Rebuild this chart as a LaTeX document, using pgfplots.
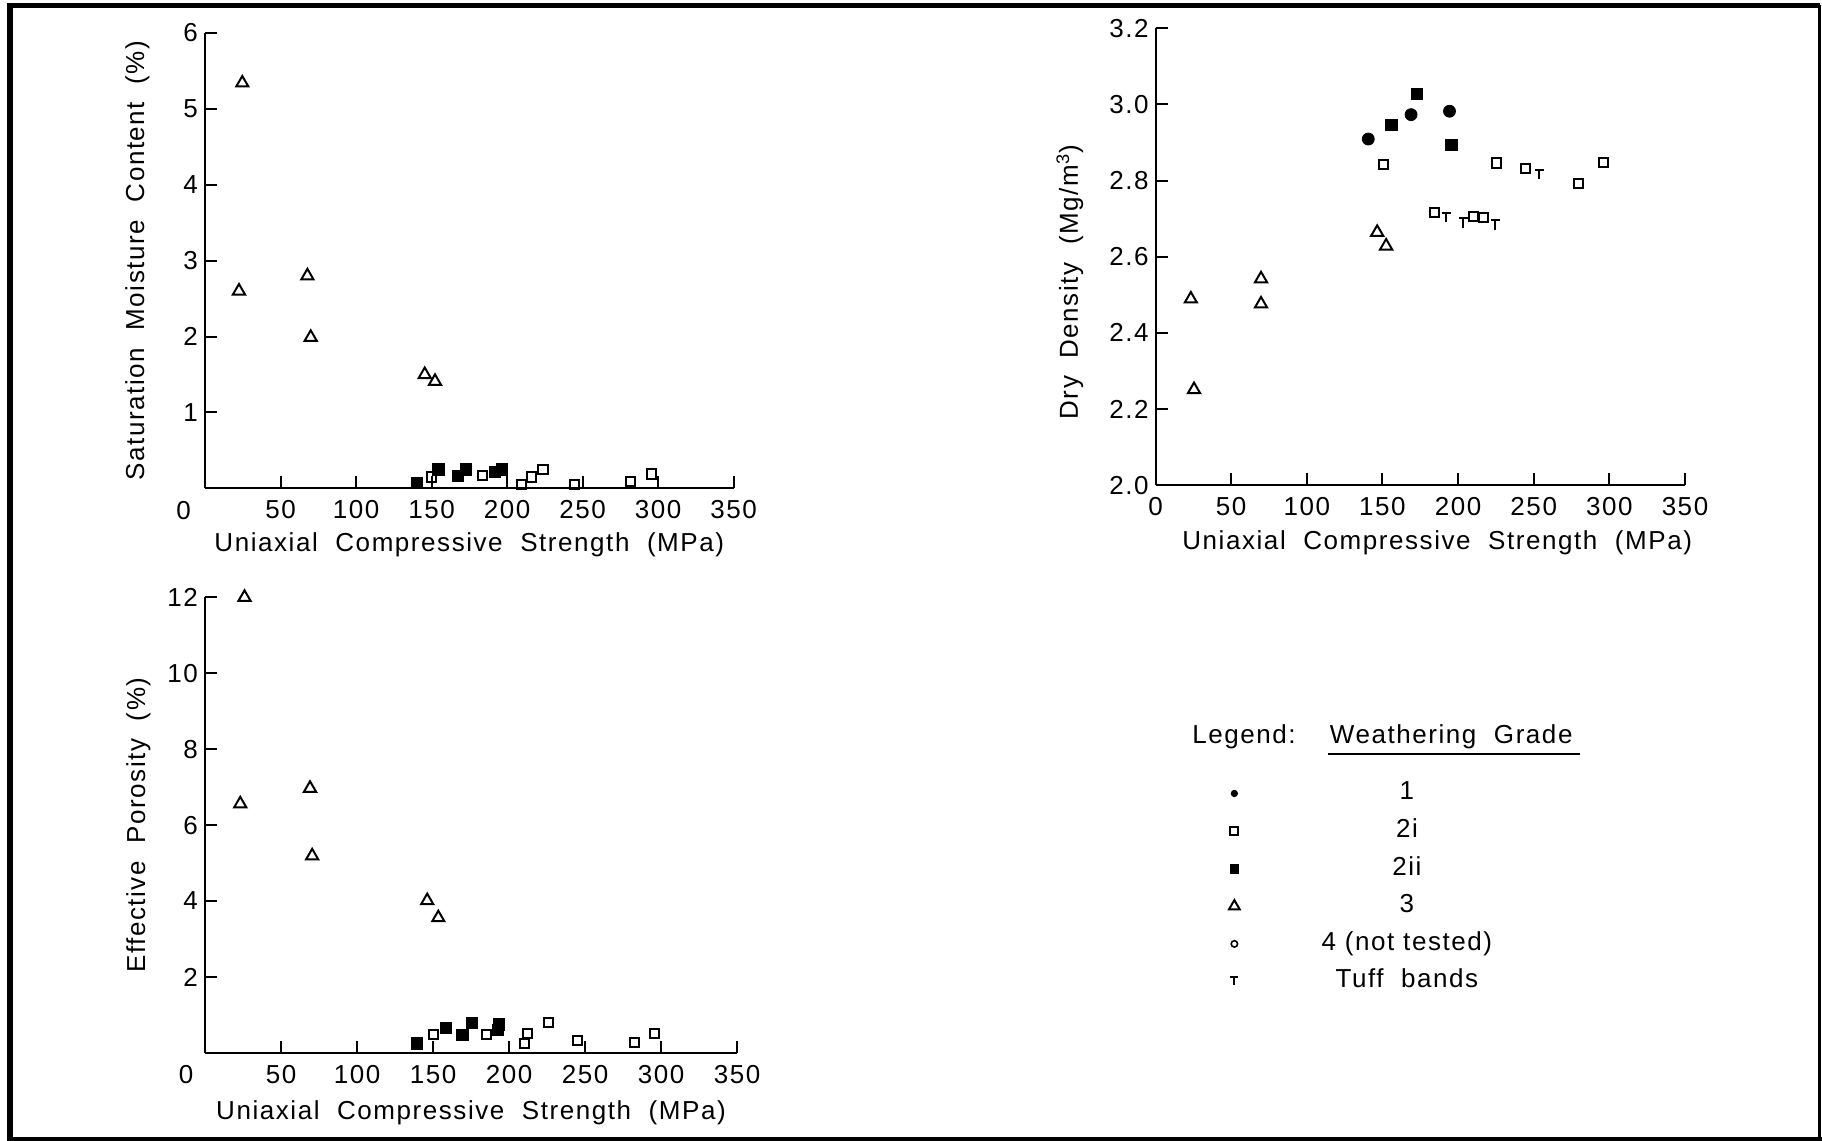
\documentclass[border=0pt]{standalone}
\usepackage{fontspec}
\setmainfont{Liberation Sans}[LetterSpace=6]
\usepackage{pgfplots}
\pgfplotsset{compat=1.18}

\pgfdeclareplotmark{tee}{%
 \pgfpathmoveto{\pgfqpoint{-\pgfplotmarksize}{\pgfplotmarksize}}%
 \pgfpathlineto{\pgfqpoint{\pgfplotmarksize}{\pgfplotmarksize}}%
 \pgfpathmoveto{\pgfqpoint{0pt}{\pgfplotmarksize}}%
 \pgfpathlineto{\pgfqpoint{0pt}{-\pgfplotmarksize}}%
 \pgfusepathqstroke}

\newcommand{\fs}{\fontsize{13}{15}\selectfont}

\pgfplotsset{
  base/.style={
    scale only axis,
    axis lines*=left,
    axis line style={line width=1pt},
    tick align=inside,
    major tick length=6pt,
    minor tick num=0,
    tick style={line width=1pt, black},
    xmin=0, xmax=350,
    tick label style={font=\fs},
    label style={font=\fs},
    xticklabel style={yshift=-2.5pt},
    /pgf/number format/assume math mode=true,
    clip=false,
    xlabel={Uniaxial\ \ Compressive\ \ Strength\ \ (MPa)},
  },
  tri/.style={only marks, mark=triangle, mark size=3.5pt, mark options={line width=1pt, draw=black, fill=white}},
  osq/.style={only marks, mark=square, mark size=2.3pt, mark options={line width=1pt, draw=black, fill=white}},
  fsq/.style={only marks, mark=square*, mark size=2.8pt, mark options={draw=black, fill=black}},
  fci/.style={only marks, mark=*, mark size=3pt, mark options={draw=black, fill=black}},
  tuff/.style={only marks, mark=tee, mark size=2.4pt, mark options={line width=1pt, draw=black}},
  ocirc/.style={only marks, mark=o, mark size=1.6pt, mark options={line width=0.8pt, draw=black}},
}

\begin{document}
\begin{tikzpicture}
\useasboundingbox (0,0) rectangle (911pt,570.5pt);
\draw[line width=3pt] (5pt,0pt) -- (5pt,569pt);
\draw[line width=2.5pt] (3.5pt,567.5pt) -- (910pt,567.5pt);
\draw[line width=1.6pt] (909.6pt,568pt) -- (909.6pt,0pt);
\draw[line width=2pt] (3.5pt,1pt) -- (911pt,1pt);

% ---------- Top-left: saturation moisture content
\begin{axis}[base,
  at={(102.5pt,326.3pt)}, anchor=south west,
  width=264.3pt, height=227.75pt,
  ymin=0, ymax=6,
  xtick={50,100,...,350},
  ytick={1,2,...,6},
  xlabel style={at={(axis description cs:0.5,-0.123)}, anchor=center},
  ylabel style={at={(axis description cs:-0.128,0.5)}, anchor=center},
  ylabel={Saturation\ \ Moisture\ \ Content\ \ (\%)},
]
\addplot[tri] coordinates {(24.7,5.34) (22.5,2.60) (67.8,2.80) (70.0,1.99) (145.5,1.50) (152.3,1.41)};
\addplot[fsq] coordinates {(140.4,0.07) (154.6,0.25) (167.5,0.16) (172.5,0.25) (192,0.22) (196.5,0.25)};
\addplot[osq] coordinates {(150,0.15) (183.8,0.165) (209.6,0.05) (216,0.15) (223.8,0.25) (244.5,0.05) (281.6,0.09) (295.8,0.19)};
\node[font=\fs, xshift=-10.7pt, yshift=-11.3pt] at (axis cs:0,0) {0};
\end{axis}

% ---------- Top-right: dry density
\begin{axis}[base,
  at={(577.8pt,327.9pt)}, anchor=south west,
  width=264.7pt, height=228.5pt,
  ymin=2.0, ymax=3.2,
  xtick={0,50,...,350},
  ytick={2.0,2.2,...,3.2},
  yticklabel style={/pgf/number format/.cd, fixed, fixed zerofill, precision=1},
  xlabel style={at={(axis description cs:0.532,-0.125)}, anchor=center},
  ylabel style={at={(axis description cs:-0.162,0.444)}, anchor=center},
  ylabel={Dry\ \ Density\ \ (Mg/m\textsuperscript{3})},
]
\addplot[tri] coordinates {(23.3,2.489) (25.4,2.251) (69.7,2.542) (69.7,2.476) (146.5,2.664) (152.4,2.628)};
\addplot[fci] coordinates {(140.6,2.909) (168.9,2.973) (194.3,2.982)};
\addplot[fsq] coordinates {(155.9,2.947) (172.5,3.027) (195.5,2.893)};
\addplot[osq] coordinates {(150.9,2.842) (225.3,2.846) (244.8,2.832) (279.4,2.792) (296.2,2.848) (184.3,2.717) (210.0,2.706) (216.8,2.702)};
\addplot[tuff] coordinates {(253.7,2.816) (192.2,2.703) (203.5,2.689) (224.7,2.684)};
\end{axis}

% ---------- Bottom-left: effective porosity
\begin{axis}[base,
  at={(102.5pt,44.05pt)}, anchor=south west,
  width=266pt, height=227.8pt,
  ymin=0, ymax=12,
  xtick={50,100,...,350},
  ytick={2,4,...,12},
  xlabel style={at={(axis description cs:0.5,-0.132)}, anchor=center},
  ylabel style={at={(axis description cs:-0.125,0.5)}, anchor=center},
  ylabel={Effective\ \ Porosity\ \ (\%)},
]
\addplot[tri] coordinates {(26,12.0) (23.2,6.56) (69.1,6.97) (70.5,5.19) (146.2,4.01) (153.5,3.56)};
\addplot[fsq] coordinates {(139.6,0.25) (158.5,0.65) (169.4,0.48) (175.4,0.78) (192.6,0.61) (193.2,0.75)};
\addplot[osq] coordinates {(150.3,0.49) (185.2,0.49) (210.4,0.25) (212.3,0.52) (225.9,0.81) (245.3,0.32) (282.8,0.28) (295.6,0.52)};
\node[font=\fs, xshift=-9.5pt, yshift=-11pt] at (axis cs:0,0) {0};
\end{axis}

% ---------- Legend
\begin{axis}[hide axis, scale only axis, width=1pt, height=1pt,
  at={(614.5pt,182pt)}, anchor=north west,
  xmin=0, xmax=1, ymin=0, ymax=1,
  legend cell align=center,
  legend style={at={(axis description cs:0,1)}, anchor=north west,
    draw=none, fill=none, inner sep=0pt, outer sep=0pt,
    font=\fs, row sep=2.3pt,
    nodes={text height=9.5pt, text depth=3pt, inner sep=2pt},
    /tikz/every odd column/.append style={column sep=39pt}},
]
\addlegendimage{only marks, mark=*, mark size=1.6pt, mark options={fill=black}}
\addlegendentry{1}
\addlegendimage{only marks, mark=square, mark size=2pt, mark options={line width=1pt}}
\addlegendentry{2i}
\addlegendimage{only marks, mark=square*, mark size=2.2pt, mark options={fill=black}}
\addlegendentry{2ii}
\addlegendimage{only marks, mark=triangle, mark size=3.1pt, mark options={line width=1pt}}
\addlegendentry{3}
\addlegendimage{ocirc}
\addlegendentry{4 (not tested)}
\addlegendimage{only marks, mark=tee, mark size=2pt, mark options={line width=1pt}}
\addlegendentry{Tuff\ \ bands}
\end{axis}

\node[font=\fs] at (622pt,202pt) {Legend:};
\node[font=\fs] at (725.6pt,202pt) {Weathering\ \ Grade};
\draw[line width=1pt] (664pt,193.5pt) -- (790pt,193.5pt);
\end{tikzpicture}
\end{document}
